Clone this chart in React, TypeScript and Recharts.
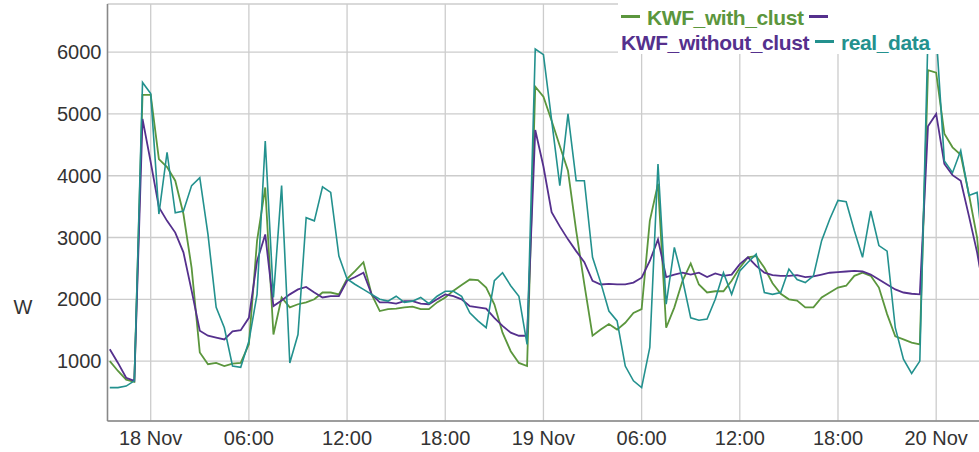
import React from "react"
import { LineChart, Line, XAxis, YAxis, CartesianGrid } from "recharts"

// half-hourly readings, first one at 17 Nov 21:30 (hours are relative to 18 Nov 00:00)
const START_HOUR = -2.5
const STEP_HOURS = 0.5

const kwfWithClust = [
  1000, 840, 700, 665, 5310, 5310, 4270, 4140, 3920, 3380, 2510, 1140, 950, 970, 920, 960, 970, 1270,
  2950, 3810, 1430, 2030, 1870, 1920, 1950, 2000, 2110, 2110, 2080, 2330, 2460, 2600, 2080, 1810, 1840,
  1850, 1870, 1880, 1840, 1840, 1950, 2030, 2140, 2230, 2320, 2310, 2190, 1920, 1460, 1160, 970, 920,
  5440, 5280, 4890, 4480, 4080, 3110, 2240, 1410, 1510, 1600, 1510, 1620, 1780, 1840, 3270, 3870, 1540,
  1870, 2300, 2580, 2240, 2110, 2130, 2130, 2300, 2510, 2680, 2700, 2510, 2260, 2090, 2000, 1980, 1870,
  1870, 2030, 2110, 2190, 2220, 2380, 2430, 2380, 2190, 1760, 1400, 1350, 1300, 1270, 5710, 5670, 4680,
  4460, 4340, 3700, 3000, 1600,
]

const kwfWithoutClust = [
  1190, 970, 730, 680, 4920, 4220, 3490, 3270, 3080, 2760, 2140, 1490, 1410, 1380, 1350, 1480, 1500, 1700,
  2620, 3050, 1890, 1980, 2080, 2160, 2200, 2110, 2030, 2050, 2050, 2300, 2360, 2430, 2080, 1950, 1950,
  1930, 1970, 1970, 1930, 1920, 2000, 2080, 2050, 2000, 1890, 1870, 1850, 1700, 1570, 1460, 1410, 1410,
  4740, 4150, 3410, 3180, 2970, 2780, 2600, 2300, 2240, 2250, 2240, 2240, 2270, 2350, 2620, 2970, 2360,
  2400, 2430, 2400, 2430, 2360, 2420, 2380, 2400, 2570, 2680, 2540, 2430, 2390, 2380, 2380, 2390, 2360,
  2370, 2400, 2430, 2440, 2450, 2460, 2450, 2400, 2320, 2240, 2160, 2110, 2090, 2080, 4800, 5000, 4190,
  4010, 3920, 3350, 2760, 2000,
]

const realData = [
  570, 570, 595, 680, 5510, 5330, 3380, 4380, 3400, 3430, 3840, 3970, 3050, 1870, 1540, 920, 900, 1320,
  2080, 4560, 2030, 3840, 970, 1430, 3320, 3270, 3820, 3730, 2700, 2330, 2240, 2160, 2080, 2000, 1970,
  2050, 1950, 1970, 2030, 1930, 2050, 2130, 2130, 2050, 1780, 1650, 1540, 2300, 2430, 2220, 2050, 1270,
  6050, 5960, 4900, 3840, 5000, 3920, 3920, 2680, 2270, 1810, 1650, 920, 680, 570, 1220, 4190, 1920,
  2840, 2320, 1700, 1660, 1680, 2000, 2430, 2080, 2460, 2600, 2730, 2110, 2080, 2110, 2490, 2320, 2270,
  2380, 2950, 3300, 3600, 3580, 3110, 2680, 3430, 2870, 2780, 1540, 1030, 800, 1000, 6300, 6300, 4240,
  4050, 4410, 3680, 3730, 2400,
]

const xTicks = [0, 6, 12, 18, 24, 30, 36, 42, 48]
const xTickLabels = ["18 Nov", "06:00", "12:00", "18:00", "19 Nov", "06:00", "12:00", "18:00", "20 Nov"]
const yTicks = [1000, 2000, 3000, 4000, 5000, 6000]

const GREEN = "#5b963d"
const PURPLE = "#55308d"
const TEAL = "#23918e"
const FONT = "'Liberation Sans', Arial, sans-serif"

const data = realData.map((v, i) => ({
  t: START_HOUR + i * STEP_HOURS,
  withClust: kwfWithClust[i],
  withoutClust: kwfWithoutClust[i],
  real: v,
}))

function Dash({ color }: { color: string }) {
  return (
    <span
      style={{
        display: "inline-block",
        width: 19,
        height: 3,
        background: color,
        marginBottom: 7,
        verticalAlign: "baseline",
      }}
    />
  )
}

function LegendBox() {
  const row: React.CSSProperties = {
    position: "absolute",
    left: 3,
    whiteSpace: "nowrap",
    fontSize: 21,
    fontWeight: "bold",
    letterSpacing: -0.4,
    lineHeight: "25px",
  }
  return (
    <div
      style={{
        position: "absolute",
        left: 618,
        top: 0,
        width: 361,
        height: 54,
        background: "#fff",
        fontFamily: FONT,
      }}
    >
      <div style={{ ...row, top: 5 }}>
        <Dash color={GREEN} />
        <span style={{ color: GREEN, marginLeft: 7 }}>KWF_with_clust</span>
        <span style={{ marginLeft: 5 }}>
          <Dash color={PURPLE} />
        </span>
      </div>
      <div style={{ ...row, top: 30 }}>
        <span style={{ color: PURPLE }}>KWF_without_clust</span>
        <span style={{ marginLeft: 6 }}>
          <Dash color={TEAL} />
        </span>
        <span style={{ color: TEAL, marginLeft: 7 }}>real_data</span>
      </div>
    </div>
  )
}

export default function App() {
  return (
    <div
      style={{
        position: "absolute",
        left: 0,
        top: 0,
        width: 979,
        height: 452,
        overflow: "hidden",
        background: "#fff",
        fontFamily: FONT,
      }}
    >
      <LineChart width={1000} height={452} data={data} margin={{ top: 4, right: 0, bottom: 0, left: 0 }}>
        <CartesianGrid stroke="#cccccc" strokeWidth={1.3} />
        <XAxis
          dataKey="t"
          type="number"
          domain={[-2.64, 51.9]}
          ticks={xTicks}
          tickFormatter={(v) => xTickLabels[xTicks.indexOf(v)]}
          height={31}
          tickLine={false}
          tickSize={0}
          tickMargin={10}
          stroke="#888"
          strokeWidth={1.5}
          tick={{ fill: "#333", fontSize: 20, fontFamily: FONT }}
        />
        <YAxis
          type="number"
          domain={[30, 6780]}
          ticks={yTicks}
          width={107.5}
          tickLine={false}
          tickSize={0}
          tickMargin={6}
          stroke="#888"
          strokeWidth={1.5}
          tick={{ fill: "#333", fontSize: 20, fontFamily: FONT }}
          label={{
            content: () => (
              <text x={23} y={314} textAnchor="middle" fill="#333" fontSize={20} fontFamily={FONT}>
                W
              </text>
            ),
          }}
        />
        <Line dataKey="withClust" stroke={GREEN} strokeWidth={1.8} dot={false} isAnimationActive={false} />
        <Line dataKey="withoutClust" stroke={PURPLE} strokeWidth={1.8} dot={false} isAnimationActive={false} />
        <Line dataKey="real" stroke={TEAL} strokeWidth={1.6} dot={false} isAnimationActive={false} />
      </LineChart>
      <LegendBox />
    </div>
  )
}
